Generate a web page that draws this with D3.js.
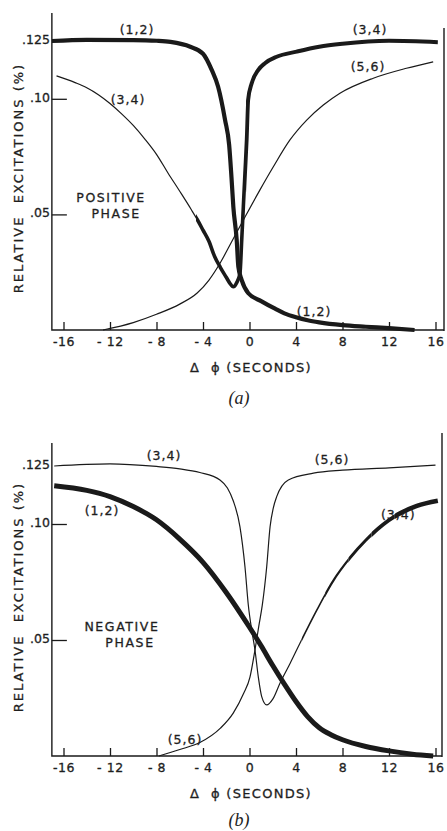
<!DOCTYPE html>
<html>
<head>
<meta charset="utf-8">
<script src="https://cdn.jsdelivr.net/npm/d3@7"></script>
<style>
  body { margin: 0; background: #fff; }
  svg text { font-family: "DejaVu Sans", sans-serif; fill: #1e1e1e; white-space: pre; }
  svg text.sans { stroke: #1e1e1e; stroke-width: 0.3px; }
</style>
</head>
<body>
<svg id="chart" width="447" height="831"></svg>
<script>
// tick values and labels shared by both panels
const xTicks = [-16, -12, -8, -4, 0, 4, 8, 12, 16];
const xTickLabels = ["-16", "- 12", "- 8", "- 4", "0", "4", "8", "12", "16"];
const yTicks = [0.05, 0.10, 0.125];
const yTickLabels = [".05", ".10", ".125"];

// (a) positive phase: [delta phi, relative excitation]
const posMode12 = [
    [-17, .125], [-14, .1255], [-10, .1254], [-8, .1251], [-6.8, .1246], [-5.1, .1225],
    [-4.0, .1195], [-3.25, .1125], [-2.7, .1052], [-2.1, .0908], [-1.75, .080], [-1.55, .066],
    [-1.39, .0533], [-1.1, .0389], [-0.96, .0274], [-0.67, .0216], [-0.1, .0159], [1.0, .0125],
    [2.2, .0092], [3, .0072], [4, .0055], [5, .0042], [6, .0033], [8, .0021], [10, .0014],
    [12, .0008], [14.2, 0]
];
const posMode34 = [
    [-16.6, .1099], [-15, .107], [-14, .1048], [-13, .1018], [-12, .098], [-11, .0935],
    [-10, .0885], [-9, .0826], [-8, .076], [-7, .0678], [-6, .060], [-5, .052],
    [-4.5, .0478], [-4, .0432], [-3.5, .0385], [-3, .0318], [-2.5, .027], [-2.0, .0228],
    [-1.7, .0203], [-1.39, .0187], [-1.1, .0205], [-0.82, .0245], [-0.67, .0389],
    [-0.53, .0533], [-0.39, .0678], [-0.25, .0822], [-0.12, .0995], [0.19, .1067],
    [0.76, .1125], [1.33, .1154], [2.34, .1182], [4.06, .1204], [6, .1225], [8, .1238],
    [12, .1251], [16.2, .1245]
];
const posMode56 = [
    [-12.6, 0], [-10, .0032], [-8, .0068], [-6, .0112], [-4.5, .016], [-3.5, .0215],
    [-2.5, .0292], [-1.5, .0385], [-0.5, .0478], [0.9, .0606], [2.05, .0706], [3.48, .0822],
    [4.92, .0908], [6.35, .0973], [7.78, .1024], [10.65, .1089], [13.5, .1132], [15.8, .116]
];

// (b) negative phase
const negMode12 = [
    [-16.8, .1165], [-14, .1145], [-12, .1118], [-10, .1075], [-8, .1018], [-6, .0935],
    [-4, .0835], [-2, .0705], [0, .0555], [1, .0475], [2, .039], [3, .031], [4, .0235],
    [5, .017], [6, .0122], [7, .0092], [8, .007], [10, .0041], [12, .0022], [14, .0008],
    [15.8, 0]
];
const negMode34 = [
    [-16.8, .125], [-12, .1259], [-8, .1248], [-6, .1238], [-4.27, .1222], [-2.54, .119],
    [-1.9, .1155], [-1.4, .110], [-0.82, .0988], [-0.39, .0816], [-0.1, .065], [0.2, .054],
    [0.47, .0457], [0.76, .034], [1.05, .0256], [1.48, .022], [2.0, .0245], [2.63, .0315],
    [3.5, .040], [4.35, .0487], [5.8, .063], [7.2, .0755], [8.66, .0855], [10, .093],
    [11.5, .0998], [13, .1047], [14.4, .1078], [16.2, .110]
];
const negMode56 = [
    [-7.8, 0], [-6, .0028], [-4.27, .0058], [-2.5, .012], [-1.4, .0185], [-0.5, .027],
    [0.04, .034], [0.47, .0457], [0.8, .056], [1.1, .065], [1.48, .0816], [1.77, .0988],
    [2.05, .107], [2.34, .1118], [3.34, .119], [5.5, .1219], [8, .1232], [12, .1242],
    [16, .1254]
];

// panel layout: pixel geometry, line widths by x range, label spots in data units
const panels = [
    {
        id: "a", yRange: [330, 41], axisTop: 13, borderTop: 28, borderX: 444,
        series: [
            { data: posMode12, widths: [[-17, 4.2]] },
            { data: posMode34, widths: [[-17, 1.2], [-4.6, 3.6], [-0.3, 4]] },
            { data: posMode56, widths: [[-17, 1.2]] }
        ],
        labels: [
            ["(1,2)", -9.68, .1298], ["(3,4)", 10.37, .1298], ["(5,6)", 10.19, .1138],
            ["(3,4)", -10.45, .0999], ["(1,2)", 5.55, .0078],
            ["POSITIVE", -11.91, .0571], ["PHASE", -11.48, .0506]
        ],
        xTitleY: 367, yTitleY: 178, caption: "(a)", captionY: 404
    },
    {
        id: "b", yRange: [756, 466], axisTop: 443, borderTop: 433, borderX: 442,
        series: [
            { data: negMode12, widths: [[-17, 5]] },
            { data: negMode34, widths: [[-17, 1.2], [4.5, 1.6], [6.5, 2.2], [8.5, 3], [10.5, 3.8], [12.5, 4.5]] },
            { data: negMode56, widths: [[-17, 1.2]] }
        ],
        labels: [
            ["(3,4)", -7.35, .1297], ["(5,6)", 7.10, .128], ["(1,2)", -12.69, .106],
            ["(3,4)", 12.80, .1039], ["(5,6)", -5.55, .0069],
            ["NEGATIVE", -10.97, .056], ["PHASE", -10.28, .0491]
        ],
        xTitleY: 793, yTitleY: 597, caption: "(b)", captionY: 826
    }
];

const svg = d3.select("#chart");
const x = d3.scaleLinear([-16, 16], [63.5, 435.5]);
const ink = "#1a1a1a";

const drawPanel = (p) => {
    const y = d3.scaleLinear([0, 0.125], p.yRange);
    const g = svg.append("g").attr("class", `panel-${p.id}`);
    const line = d3.line()
        .x(d => x(d[0]))
        .y(d => y(d[1]))
        .curve(d3.curveMonotoneX);

    // frame: left axis, bottom axis, right border
    const left = x(-17);
    g.append("path")
        .attr("d", `M${left},${p.axisTop}V${y(0)}H${p.borderX}M${p.borderX},${p.borderTop}V${y(0) + 1}`)
        .attr("fill", "none")
        .attr("stroke", ink)
        .attr("stroke-width", 1.4);

    // x axis, ticks point up into the plot
    const xAxis = g.append("g")
        .attr("transform", `translate(0,${y(0)})`)
        .call(d3.axisBottom(x)
            .tickValues(xTicks)
            .tickSizeInner(-8)
            .tickSizeOuter(0)
            .tickPadding(7)
            .tickFormat((d, i) => xTickLabels[i]));
    xAxis.select(".domain").remove();
    xAxis.selectAll("line").attr("stroke", ink).attr("stroke-width", 1.3);
    xAxis.selectAll("text")
        .attr("class", "sans")
        .attr("font-family", null)
        .style("font-size", "12.5px")
        .style("letter-spacing", "0.6px");

    // y axis, ticks point right
    const yAxis = g.append("g")
        .attr("transform", `translate(${left},0)`)
        .call(d3.axisLeft(y)
            .tickValues(yTicks)
            .tickSizeInner(-15)
            .tickSizeOuter(0)
            .tickPadding(2)
            .tickFormat((d, i) => yTickLabels[i]));
    yAxis.select(".domain").remove();
    yAxis.selectAll("line").attr("stroke", ink).attr("stroke-width", 1.3);
    yAxis.selectAll(".tick").filter(d => d === 0.125).select("line").remove();
    yAxis.selectAll("text")
        .attr("class", "sans")
        .style("font-size", "12.5px")
        .attr("dy", "0.2em");

    // curves, line width changes along x through clip strips
    p.series.forEach((s, si) => {
        s.widths.forEach(([from, w], wi) => {
            const to = wi + 1 < s.widths.length ? s.widths[wi + 1][0] : 17;
            const clipId = `clip-${p.id}-${si}-${wi}`;
            g.append("clipPath").attr("id", clipId)
                .append("rect")
                .attr("x", x(from))
                .attr("width", x(to) - x(from))
                .attr("y", 0)
                .attr("height", 831);
            g.append("path")
                .datum(s.data)
                .attr("clip-path", `url(#${clipId})`)
                .attr("d", line)
                .attr("fill", "none")
                .attr("stroke", ink)
                .attr("stroke-width", w)
                .attr("stroke-linejoin", "round");
        });
    });

    // curve and phase labels
    g.selectAll(".curve-label")
        .data(p.labels)
        .join("text")
        .attr("class", "curve-label sans")
        .attr("x", d => x(d[1]))
        .attr("y", d => y(d[2]))
        .attr("text-anchor", "middle")
        .attr("dominant-baseline", "central")
        .style("font-size", "12.5px")
        .style("letter-spacing", d => d[0].startsWith("(") ? "1px" : "1.6px")
        .text(d => d[0]);

    // axis titles
    g.append("text")
        .attr("class", "sans")
        .attr("x", 251)
        .attr("y", p.xTitleY)
        .attr("text-anchor", "middle")
        .attr("dominant-baseline", "central")
        .style("font-size", "13px")
        .style("letter-spacing", "1.3px")
        .text("Δ  ϕ (SECONDS)");

    g.append("text")
        .attr("class", "sans")
        .attr("transform", `translate(18,${p.yTitleY}) rotate(-90)`)
        .attr("text-anchor", "middle")
        .attr("dominant-baseline", "central")
        .style("font-size", "13px")
        .style("letter-spacing", "2px")
        .text("RELATIVE  EXCITATIONS (%)");

    g.append("text")
        .attr("x", 239)
        .attr("y", p.captionY)
        .attr("text-anchor", "middle")
        .style("font-family", "'Liberation Serif', serif")
        .style("font-style", "italic")
        .style("font-size", "18px")
        .text(p.caption);
};

panels.forEach(drawPanel);
</script>
</body>
</html>
